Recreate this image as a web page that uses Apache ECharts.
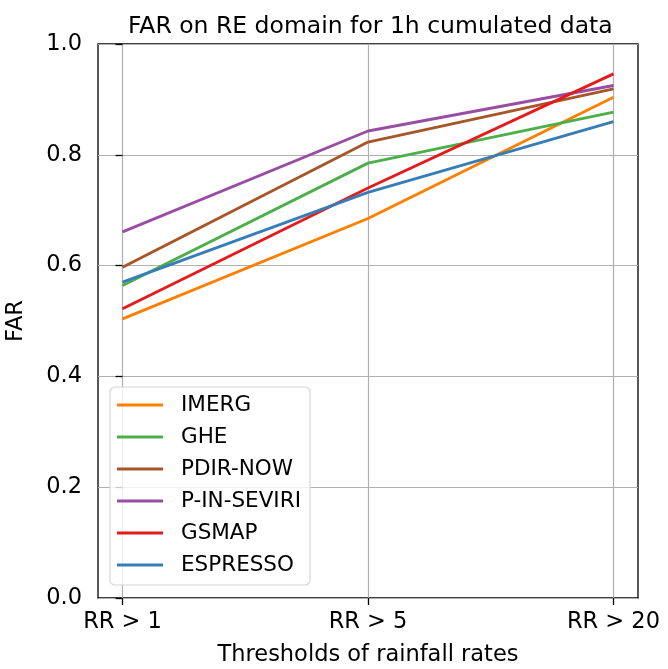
<!DOCTYPE html>
<html>
<head>
<meta charset="utf-8">
<script src="https://cdn.jsdelivr.net/npm/echarts@6/dist/echarts.min.js"></script>
<style>
  html, body { margin: 0; padding: 0; background: #fff; }
  #main { width: 668px; height: 669px; }
</style>
</head>
<body>
<div id="main"></div>
<script>
var categories = ['RR > 1', 'RR > 5', 'RR > 20'];
var names = ['IMERG', 'GHE', 'PDIR-NOW', 'P-IN-SEVIRI', 'GSMAP', 'ESPRESSO'];
var colors = ['#ff7f00', '#4daf4a', '#a65628', '#984ea3', '#e41a1c', '#377eb8'];
var imerg = [0.504, 0.685, 0.904];
var ghe = [0.564, 0.785, 0.877];
var pdir = [0.597, 0.823, 0.919];
var pinseviri = [0.661, 0.843, 0.925];
var gsmap = [0.522, 0.740, 0.946];
var espresso = [0.570, 0.732, 0.860];
var values = [imerg, ghe, pdir, pinseviri, gsmap, espresso];

var dom = document.getElementById('main');
var myChart = echarts.init(dom);

var series = names.map(function (n, i) {
    return {
        name: n,
        type: 'line',
        data: values[i].map(function (v, j) { return [j, v]; }),
        showSymbol: false,
        lineStyle: { color: colors[i], width: 2.9 },
        itemStyle: { color: colors[i] },
        z: 3
    };
});

var font = 'DejaVu Sans';

option = {
    animation: false,
    textStyle: { fontFamily: font },
    title: {
        text: 'FAR on RE domain for 1h cumulated data',
        left: 123,
        top: 10,
        textStyle: { fontFamily: font, fontSize: 23.5, fontWeight: 'normal', color: '#000' }
    },
    grid: {
        left: 98, right: 30, top: 44, bottom: 71,
        outerBoundsMode: 'none',
        containLabel: false,
        show: true, borderColor: '#000', borderWidth: 1.3, backgroundColor: 'transparent'
    },
    legend: {
        orient: 'vertical',
        left: 110, top: 387,
        padding: [7, 9, 9, 7],
        itemGap: 10,
        itemWidth: 46, itemHeight: 22,
        backgroundColor: 'rgba(255,255,255,0.8)',
        borderColor: '#d6d6d6', borderWidth: 1.2, borderRadius: 5,
        icon: 'path://M0,0 L46,0 L46,3 L0,3 Z',
        textStyle: { fontFamily: font, fontSize: 21.5, lineHeight: 22, color: '#000', padding: [0, 0, 0, 13] },
        data: names
    },
    xAxis: {
        type: 'value',
        min: -0.1, max: 2.1,
        name: 'Thresholds of rainfall rates',
        nameLocation: 'middle',
        nameGap: 46,
        nameTextStyle: { fontFamily: font, fontSize: 22.5, color: '#000' },
        axisLine: { show: false },
        axisTick: { show: true, customValues: [0, 1, 2], length: 7, lineStyle: { color: '#000', width: 1.3 } },
        axisLabel: {
            customValues: [0, 1, 2],
            fontFamily: font, fontSize: 22.5, color: '#000', margin: 13,
            formatter: function (v) { return categories[Math.round(v)]; }
        },
        splitLine: { show: true, lineStyle: { color: '#b0b0b0', width: 1.2 } }
    },
    yAxis: {
        type: 'value',
        min: 0, max: 1, interval: 0.2,
        name: 'FAR',
        nameLocation: 'middle',
        nameGap: 70,
        nameRotate: 90,
        nameTextStyle: { fontFamily: font, fontSize: 22.5, color: '#000' },
        axisLine: { show: false },
        axisTick: { show: true, length: 7, lineStyle: { color: '#000', width: 1.3 } },
        axisLabel: {
            fontFamily: font, fontSize: 22.5, color: '#000', margin: 16,
            formatter: function (v) { return v.toFixed(1); }
        },
        splitLine: { show: true, lineStyle: { color: '#b0b0b0', width: 1.2 } }
    },
    series: series
};

if (option && typeof option === 'object') {
    myChart.setOption(option, true);
}
</script>
</body>
</html>
